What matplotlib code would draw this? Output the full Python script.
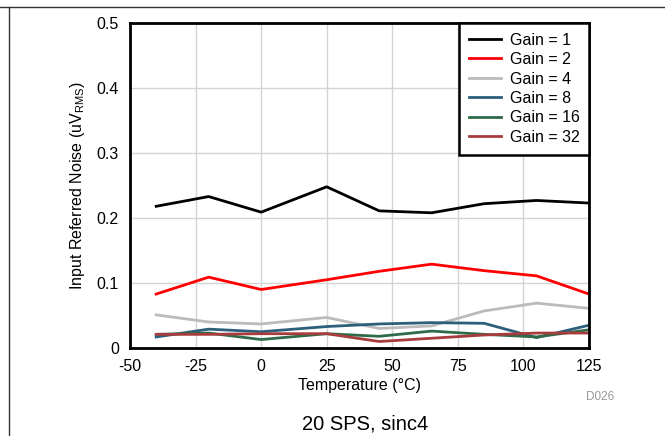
import matplotlib
matplotlib.use('Agg')
import matplotlib.pyplot as plt
from matplotlib.lines import Line2D

plt.rcParams['font.family'] = ['Liberation Sans', 'DejaVu Sans']

temps = [-40, -20, 0, 25, 45, 65, 85, 105, 125]
gain_1 = [0.218, 0.233, 0.209, 0.248, 0.211, 0.208, 0.222, 0.227, 0.223]
gain_2 = [0.083, 0.109, 0.090, 0.105, 0.118, 0.129, 0.119, 0.111, 0.083]
gain_4 = [0.051, 0.040, 0.037, 0.047, 0.030, 0.034, 0.057, 0.069, 0.061]
gain_8 = [0.017, 0.029, 0.025, 0.033, 0.037, 0.039, 0.038, 0.016, 0.035]
gain_16 = [0.021, 0.023, 0.013, 0.022, 0.018, 0.026, 0.021, 0.017, 0.028]
gain_32 = [0.021, 0.021, 0.022, 0.022, 0.010, 0.015, 0.020, 0.023, 0.023]

series = [("Gain = 1", gain_1, "#000000"),
          ("Gain = 2", gain_2, "#ff0000"),
          ("Gain = 4", gain_4, "#bbbbbb"),
          ("Gain = 8", gain_8, "#2c5f7c"),
          ("Gain = 16", gain_16, "#2e6b48"),
          ("Gain = 32", gain_32, "#a83c3c")]

xticks = [-50, -25, 0, 25, 50, 75, 100, 125]
yticks = [0, 0.1, 0.2, 0.3, 0.4, 0.5]

fig = plt.figure(figsize=(6.65, 4.36), dpi=100)
ax = fig.add_axes([130/665, 1 - 348/436, 459/665, 325/436])

for label, vals, color in series:
    ax.plot(temps, vals, color=color, lw=2, label=label)

ax.set_xlim(-50, 125)
ax.set_ylim(0, 0.5)
ax.set_xticks(xticks)
ax.set_xticklabels([str(t) for t in xticks])
ax.set_yticks(yticks)
ax.set_yticklabels(["0", "0.1", "0.2", "0.3", "0.4", "0.5"])
ax.tick_params(length=0, labelsize=11.5)
ax.tick_params(axis='x', pad=8)
ax.tick_params(axis='y', pad=8)
ax.grid(True, color="#d4d4d4", lw=1)
ax.set_axisbelow(True)
for sp in ax.spines.values():
    sp.set_linewidth(2)

ax.set_xlabel("Temperature (°C)", fontsize=11.5, labelpad=3)
ax.set_ylabel("Input Referred Noise (uV$_{\\mathregular{RMS}}$)", fontsize=11.5, labelpad=7)

leg = ax.legend(loc="upper right", borderaxespad=0, fancybox=False,
                edgecolor="black", fontsize=11.5, handlelength=2.0,
                labelspacing=0.28, handletextpad=0.55, borderpad=0.6)
leg.get_frame().set_linewidth(1.8)
leg.get_frame().set_alpha(1)

fig.text(600/665, 1 - 397/436, "D026", fontsize=8.5, color="#999999", ha="center", va="center")
fig.text(365/665, 1 - 424/436, "20 SPS, sinc4", fontsize=14.5, ha="center", va="center")

# panel frame (top and left edges)
fig.add_artist(Line2D([0, 1], [1 - 7.5/436] * 2, color="#333333", lw=1, transform=fig.transFigure))
fig.add_artist(Line2D([8.5/665] * 2, [0, 1 - 7.5/436], color="#333333", lw=1, transform=fig.transFigure))

fig.savefig("out.png", dpi=100)
